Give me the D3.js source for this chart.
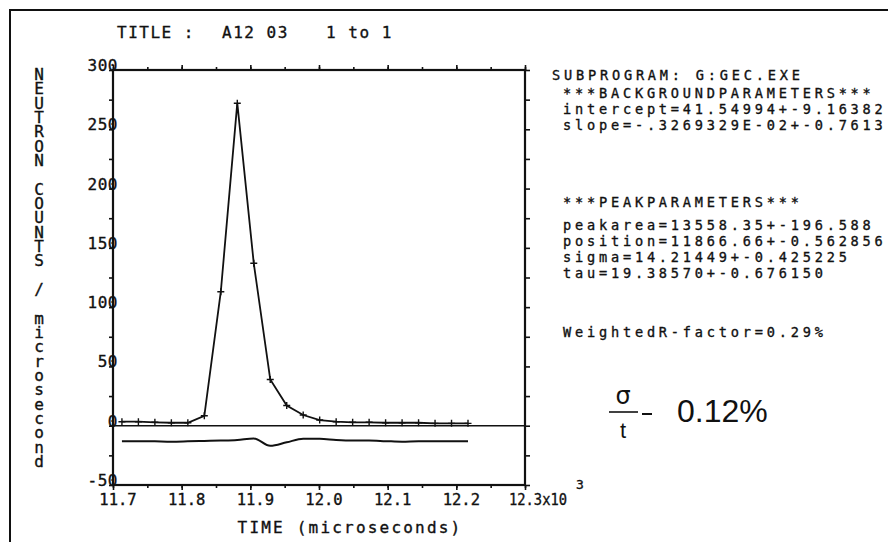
<!DOCTYPE html>
<html>
<head>
<meta charset="utf-8">
<script src="https://cdn.jsdelivr.net/npm/d3@7/dist/d3.min.js"></script>
<style>
  body { margin: 0; background: #fff; }
  svg text.mono { font-family: "DejaVu Sans Mono", "Liberation Mono", monospace; fill: #111; stroke: #111; stroke-width: 0.35; }
</style>
</head>
<body>
<svg id="chart" width="888" height="542"></svg>
<script>
// channel times (x10^3 microseconds), fitted counts and plotted residual trace
const times = [11.713, 11.737, 11.761, 11.785, 11.809, 11.833, 11.857, 11.881, 11.905, 11.929, 11.953,
  11.977, 12.001, 12.025, 12.049, 12.073, 12.097, 12.121, 12.145, 12.169, 12.193, 12.217]
const counts = [3.4, 3.4, 2.9, 2.5, 2.5, 8.4, 113, 272, 137, 39, 17, 9, 4.8, 3.4, 2.9, 2.9, 2.5, 2.5, 2.5, 2.0, 2.0, 2.0]
const residual = [-13, -13, -13.2, -13.5, -13.2, -12.8, -12.5, -12, -10.8, -17, -14, -11, -11, -12, -12.5,
  -12.5, -13, -13.5, -13, -13, -13, -13]

const xMajor = [11.7, 11.8, 11.9, 12.0, 12.1, 12.2, 12.3]
const xMinor = [11.7, 11.75, 11.8, 11.85, 11.9, 11.95, 12.0, 12.05, 12.1, 12.15, 12.2, 12.25, 12.3]
const xLabels = ["11.7", "11.8", "11.9", "12.0", "12.1", "12.2", "12.3x10"]
const yMajor = [-50, 0, 50, 100, 150, 200, 250, 300]
const yMinor = [-50, -25, 0, 25, 50, 75, 100, 125, 150, 175, 200, 225, 250, 275, 300]

const titleParts = ["TITLE :", "A12 03", "1 to 1"]
const yTitle = "NEUTRON COUNTS / microsecond"
const xTitle = "TIME (microseconds)"
const infoLines = [
  "SUBPROGRAM: G:GEC.EXE",
  "***BACKGROUNDPARAMETERS***",
  "intercept=41.54994+-9.16382",
  "slope=-.3269329E-02+-0.7613",
  "***PEAKPARAMETERS***",
  "peakarea=13558.35+-196.588",
  "position=11866.66+-0.562856",
  "sigma=14.21449+-0.425225",
  "tau=19.38570+-0.676150",
  "WeightedR-factor=0.29%"
]

const ink = "#111"
const svg = d3.select("#chart")

const plotL = 113, plotR = 525, plotT = 70, plotB = 485
const x = d3.scaleLinear().domain([11.7, 12.3]).range([plotL, plotR])
const y = d3.scaleLinear().domain([-50, 300]).range([plotB, plotT])

// page border (top and left only)
svg.append("path").attr("d", `M888,10 L10,10 L10,542`).attr("fill", "none").attr("stroke", ink).attr("stroke-width", 2)

// title
const titleX = [117, 222, 326]
svg.selectAll(".title").data(titleParts).join("text").attr("class", "title mono")
  .attr("x", (d, i) => titleX[i]).attr("y", 38)
  .attr("font-size", 16).attr("letter-spacing", 1.5).text(d => d)

// frame
svg.append("rect").attr("x", plotL).attr("y", plotT).attr("width", plotR - plotL).attr("height", plotB - plotT)
  .attr("fill", "none").attr("stroke", ink).attr("stroke-width", 2.2)

// tick marks
const tickStyle = g => { g.select(".domain").remove(); g.selectAll("line").attr("stroke", ink).attr("stroke-width", 1.6) }
svg.append("g").attr("transform", `translate(0,${plotT})`)
  .call(d3.axisTop(x).tickValues(xMinor).tickSize(3).tickFormat("")).call(tickStyle)
svg.append("g").attr("transform", `translate(0,${plotT})`)
  .call(d3.axisTop(x).tickValues(xMajor).tickSize(5).tickFormat("")).call(tickStyle)
svg.append("g").attr("transform", `translate(0,${plotB})`)
  .call(d3.axisBottom(x).tickValues(xMinor).tickSize(3).tickFormat("")).call(tickStyle)
svg.append("g").attr("transform", `translate(0,${plotB})`)
  .call(d3.axisBottom(x).tickValues(xMajor).tickSize(5).tickFormat("")).call(tickStyle)
svg.append("g").attr("transform", `translate(${plotL},0)`)
  .call(d3.axisLeft(y).tickValues(yMinor).tickSize(4).tickFormat("")).call(tickStyle)
svg.append("g").attr("transform", `translate(${plotR},0)`)
  .call(d3.axisRight(y).tickValues(yMinor).tickSize(5).tickFormat("")).call(tickStyle)

// y tick labels, overlapping the axis line like the plotter output
svg.selectAll(".ylab").data(yMajor).join("text").attr("class", "ylab mono")
  .attr("x", plotL + 5).attr("y", d => y(d) + 1).attr("text-anchor", "end")
  .attr("font-size", 16).attr("letter-spacing", 0.5).text(d => d)

// x tick labels; the last one carries the x10^3 multiplier squeezed against it
svg.selectAll(".xlab").data(xMajor.slice(0, -1)).join("text").attr("class", "xlab mono")
  .attr("x", d => x(d) + 5).attr("y", 505).attr("text-anchor", "middle")
  .attr("font-size", 15.5).text((d, i) => xLabels[i])
svg.append("text").attr("class", "mono").attr("x", x(12.3) - 16).attr("y", 505)
  .attr("font-size", 15.5).attr("textLength", 58).attr("lengthAdjust", "spacingAndGlyphs")
  .text(xLabels[xLabels.length - 1])
svg.append("text").attr("class", "mono").attr("x", x(12.3) + 51).attr("y", 489)
  .attr("font-size", 13).text("3")

// axis titles
svg.append("text").attr("class", "mono").attr("x", 350).attr("y", 533).attr("text-anchor", "middle")
  .attr("font-size", 16).attr("letter-spacing", 2.2).text(xTitle)
svg.append("text").attr("class", "mono").attr("x", 39).attr("y", 65)
  .attr("font-size", 16).style("writing-mode", "vertical-rl").style("text-orientation", "upright")
  .attr("textLength", 406).attr("lengthAdjust", "spacing").text(yTitle)

// zero line
svg.append("line").attr("x1", plotL).attr("x2", plotR).attr("y1", y(0)).attr("y2", y(0))
  .attr("stroke", ink).attr("stroke-width", 1.6)

// fit curve with + markers
const pts = times.map((t, i) => ({ t: t, c: counts[i], r: residual[i] }))
const line = d3.line().x(d => x(d.t)).y(d => y(d.c))
svg.append("path").attr("d", line(pts)).attr("fill", "none").attr("stroke", ink).attr("stroke-width", 1.8)
svg.selectAll(".mark").data(pts).join("path").attr("class", "mark")
  .attr("d", d => `M${x(d.t) - 3.5},${y(d.c)}h7M${x(d.t)},${y(d.c) - 3.5}v7`)
  .attr("stroke", ink).attr("stroke-width", 1.4)

// residual trace
const rline = d3.line().x(d => x(d.t)).y(d => y(d.r)).curve(d3.curveMonotoneX)
svg.append("path").attr("d", rline(pts)).attr("fill", "none").attr("stroke", ink).attr("stroke-width", 2)

// fit results text
const infoY = [80, 98, 114, 130, 207, 230, 246, 262, 278, 337]
svg.selectAll(".info").data(infoLines).join("text").attr("class", "info mono")
  .attr("x", (d, i) => i === 0 ? 552 : 563).attr("y", (d, i) => infoY[i])
  .attr("font-size", 13.6).attr("letter-spacing", 3.8).text(d => d)

// handwritten note: sigma / t = 0.12%
const hand = svg.append("g").style("fill", ink)
hand.append("text").attr("x", 623).attr("y", 404).attr("text-anchor", "middle")
  .attr("font-size", 24).style("font-family", "'DejaVu Sans', sans-serif").text("σ")
hand.append("line").attr("x1", 609).attr("x2", 638).attr("y1", 412).attr("y2", 412).attr("stroke", ink).attr("stroke-width", 1.6)
hand.append("text").attr("x", 623).attr("y", 438).attr("text-anchor", "middle")
  .attr("font-size", 22).style("font-family", "'Liberation Sans', sans-serif").text("t")
hand.append("line").attr("x1", 642).attr("x2", 652).attr("y1", 414).attr("y2", 414).attr("stroke", ink).attr("stroke-width", 2)
hand.append("text").attr("x", 677).attr("y", 422).attr("font-size", 32)
  .style("font-family", "'Liberation Sans', sans-serif").style("font-weight", 300).text("0.12%")
</script>
</body>
</html>
